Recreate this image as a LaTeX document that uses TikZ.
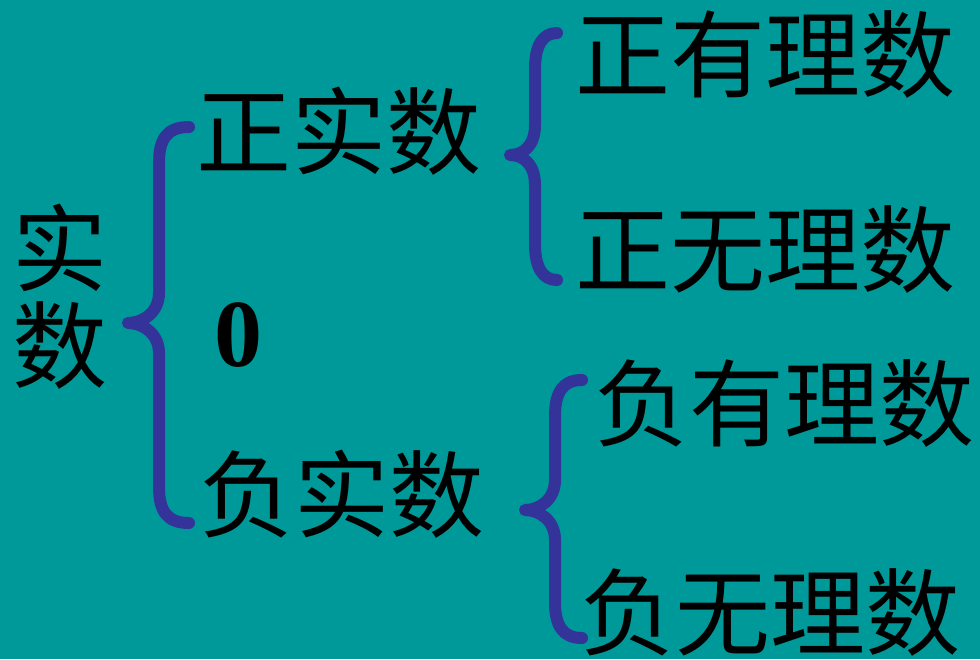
\documentclass[tikz,border=0pt]{standalone}
\usepackage{fontspec}
\newfontfamily\cjk{Noto Sans CJK SC}
\newfontfamily\zerofont{Liberation Serif}
\definecolor{bgteal}{HTML}{009999}
\definecolor{braceblue}{HTML}{333399}
\newcommand\drawbrace[6]{%
  % #1 end x, #2 line x, #3 tip x, #4 top y, #5 tip y, #6 bottom y
  \draw[bracestyle] (#1,#4) .. controls ({#2+8},#4) and (#2,{#4+12}) .. (#2,{#4+36})
    -- (#2,{#5-30}) .. controls (#2,{#5-10}) and ({#3+14},#5) .. (#3,#5)
    .. controls ({#3+14},#5) and (#2,{#5+10}) .. (#2,{#5+30})
    -- (#2,{#6-36}) .. controls (#2,{#6-12}) and ({#2+8},#6) .. (#1,#6);}
\begin{document}
\begin{tikzpicture}[x=1pt,y=-1pt,
  bracestyle/.style={draw=braceblue,line width=12pt,line cap=round,line join=round},
  lbl/.style={font=\cjk\fontsize{95}{95}\selectfont,inner sep=0pt,anchor=west,text=black}]
\useasboundingbox (0,0) rectangle (980,659);
\fill[bgteal] (0,0) rectangle (980,659);
\node[font=\cjk\fontsize{95}{95}\selectfont,inner sep=0pt,align=center] (shishu) at (60,297) {实\\[2pt]数};
\node[lbl] (zhengshi) at (196,131) {正实数};
\node[font=\zerofont\bfseries\fontsize{96}{96}\selectfont,inner sep=0pt] (zero) at (238,335) {0};
\node[lbl] (fushi) at (199,494) {负实数};
\node[lbl] (zy) at (575,54) {正有理数};
\node[lbl] (zw) at (575,249) {正无理数};
\node[lbl] (fy) at (594,403) {负有理数};
\node[lbl] (fw) at (580,612) {负无理数};
\drawbrace{189}{159}{128}{127}{323}{523}
\drawbrace{557}{535}{510}{33}{155}{280}
\drawbrace{582}{555}{525}{380}{510}{638}
\end{tikzpicture}
\end{document}
